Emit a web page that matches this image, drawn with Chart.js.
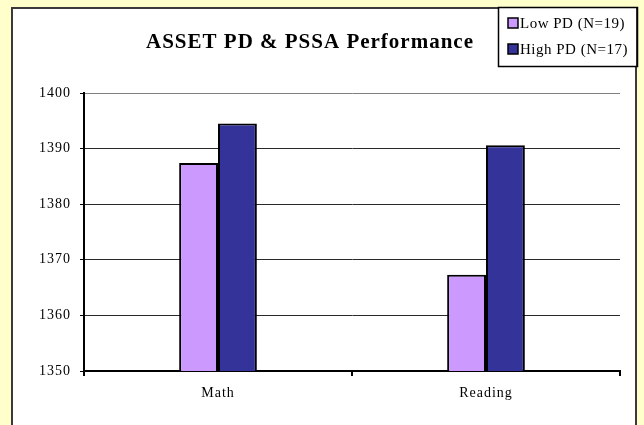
<!DOCTYPE html>
<html lang="en">
<head>
  <meta charset="UTF-8" />
  <title>ASSET PD & PSSA Performance</title>
  <script src="https://cdn.jsdelivr.net/npm/chart.js"></script>
  <style>
    html, body {
      margin: 0;
      padding: 0;
      background: #FFFFCC;
      overflow: hidden;
    }

    #frame {
      position: absolute;
      left: 11px;
      top: 7px;
      width: 622px;
      height: 440px;
      background: #fff;
      border: 2px solid #3a3a3a;
    }

    #wrap {
      position: absolute;
      left: 0;
      top: 0;
      width: 644px;
      height: 425px;
    }
  </style>
</head>
<body>
  <div id="frame"></div>
  <div id="wrap"><canvas id="perfChart"></canvas></div>

  <script>
    const categories = ['Math', 'Reading'];
    const seriesLabels = ['Low PD (N=19)', 'High PD (N=17)'];
    const lowPD = [1387.4, 1367.3];
    const highPD = [1394.5, 1390.6];
    const seriesColors = ['#CC99FF', '#333399'];
    const yMin = 1350, yMax = 1400, yStep = 10;
    const chartTitle = 'ASSET PD & PSSA Performance';

    const serif = "'Liberation Serif', 'Times New Roman', serif";

    // title + boxed legend, drawn by hand like the original
    const decorations = {
      id: 'decorations',
      beforeDraw(chart) {
        chart.ctx.letterSpacing = '1px';
      },
      afterDraw(chart) {
        const ctx = chart.ctx;
        ctx.save();
        ctx.fillStyle = '#000';
        ctx.font = 'bold 21px ' + serif;
        ctx.letterSpacing = '1px';
        ctx.textAlign = 'center';
        ctx.textBaseline = 'alphabetic';
        ctx.fillText(chartTitle, 310, 48);

        // legend box
        ctx.fillStyle = '#fff';
        ctx.fillRect(498, 8, 138, 59);
        ctx.strokeStyle = '#000';
        ctx.lineWidth = 1.5;
        ctx.strokeRect(498.5, 7.5, 139, 59);

        ctx.font = '15px ' + serif;
        ctx.letterSpacing = '0.5px';
        ctx.textAlign = 'left';
        const rows = [23, 49];
        seriesLabels.forEach((label, i) => {
          const y = rows[i];
          ctx.fillStyle = seriesColors[i];
          ctx.fillRect(508, y - 5, 10, 10);
          ctx.lineWidth = 1.5;
          ctx.strokeRect(508, y - 5, 10, 10);
          ctx.fillStyle = '#000';
          ctx.fillText(label, 520, y + 5);
        });
        ctx.restore();
      }
    };

    new Chart(document.getElementById('perfChart'), {
      type: 'bar',
      data: {
        labels: categories,
        datasets: [{
          label: seriesLabels[0],
          data: lowPD,
          backgroundColor: seriesColors[0],
          borderColor: '#000',
          borderWidth: 2,
          barPercentage: 1,
          categoryPercentage: 0.29
        }, {
          label: seriesLabels[1],
          data: highPD,
          backgroundColor: seriesColors[1],
          borderColor: '#000',
          borderWidth: 2,
          barPercentage: 1,
          categoryPercentage: 0.29
        }]
      },
      options: {
        responsive: true,
        maintainAspectRatio: false,
        animation: false,
        layout: {
          padding: { left: 0, right: 24, top: 93, bottom: 0 }
        },
        plugins: {
          legend: { display: false },
          title: { display: false },
          tooltip: { enabled: false }
        },
        scales: {
          x: {
            grid: {
              offset: true,
              color: ctx => ctx.index === 2 ? '#808080' : 'rgba(0,0,0,0)',
              tickColor: '#000',
              tickLength: 5,
              lineWidth: 2
            },
            border: { color: '#000', width: 2 },
            ticks: {
              color: '#000',
              padding: 9,
              font: { family: serif, size: 14 }
            },
            afterFit(scale) { scale.height = 54; }
          },
          y: {
            min: yMin,
            max: yMax,
            ticks: {
              stepSize: yStep,
              color: '#000',
              padding: 9,
              font: { family: serif, size: 14 },
              callback: v => String(v)
            },
            grid: {
              color: ctx => ctx.tick && ctx.tick.value === yMax ? '#808080' : '#2a2a2a',
              tickColor: '#000',
              tickLength: 4,
              lineWidth: 1
            },
            border: { color: '#000', width: 2 },
            afterFit(scale) { scale.width = 84; }
          }
        }
      },
      plugins: [decorations]
    });
  </script>
</body>
</html>
